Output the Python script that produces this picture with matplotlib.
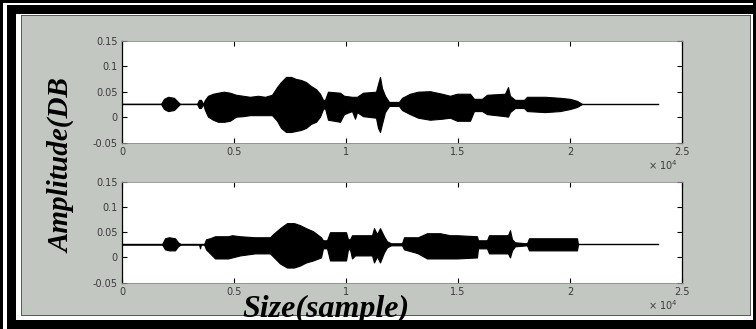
import matplotlib
matplotlib.use('Agg')
import matplotlib.pyplot as plt
from matplotlib.patches import Rectangle
import numpy as np

# envelope of the two waveforms
# (sample index, amplitude above / below the resting level)
base_level = 0.026
signal_end = 23929

top_samples = [0, 1741, 1875, 2054, 2321, 2500, 2589, 3348, 3438, 3527,
               3616, 3705, 3839, 4063, 4286, 4554, 4821, 5089, 5402, 5714,
               6071, 6384, 6696, 6920, 7098, 7321, 7545, 7768, 7991, 8214,
               8438, 8661, 8839, 8973, 9063, 9196, 9732, 9911, 10268, 10402,
               10491, 10759, 11339, 11429, 11518, 11607, 11741, 11920, 12366, 12500,
               12857, 13214, 13750, 14286, 14643, 14955, 15536, 15714, 16071, 16295,
               17098, 17232, 17321, 17545, 17946, 18080, 18884, 19554, 20000, 20313,
               20536]
top_upper = [0.0, 0.0, 0.010, 0.014, 0.012, 0.004, 0.0, 0.0, 0.008, 0.008,
             0.0, 0.008, 0.016, 0.020, 0.022, 0.024, 0.022, 0.018, 0.016, 0.014,
             0.016, 0.014, 0.018, 0.033, 0.043, 0.053, 0.053, 0.049, 0.047, 0.043,
             0.035, 0.029, 0.020, 0.008, 0.008, 0.024, 0.022, 0.016, 0.014, 0.014,
             0.014, 0.022, 0.024, 0.039, 0.053, 0.031, 0.016, 0.004, 0.004, 0.012,
             0.020, 0.024, 0.025, 0.020, 0.016, 0.020, 0.020, 0.010, 0.010, 0.018,
             0.020, 0.033, 0.016, 0.008, 0.008, 0.014, 0.014, 0.012, 0.010, 0.006,
             0.0]
top_lower = [0.0, 0.0, 0.010, 0.014, 0.012, 0.004, 0.0, 0.0, 0.008, 0.008,
             0.0, 0.012, 0.025, 0.031, 0.035, 0.035, 0.033, 0.025, 0.024, 0.022,
             0.022, 0.022, 0.022, 0.033, 0.047, 0.055, 0.055, 0.053, 0.051, 0.047,
             0.039, 0.035, 0.025, 0.010, 0.008, 0.031, 0.035, 0.020, 0.014, 0.029,
             0.016, 0.024, 0.027, 0.047, 0.055, 0.039, 0.016, 0.004, 0.004, 0.012,
             0.020, 0.027, 0.031, 0.029, 0.027, 0.033, 0.033, 0.014, 0.014, 0.020,
             0.024, 0.025, 0.016, 0.008, 0.008, 0.014, 0.016, 0.014, 0.010, 0.006,
             0.0]

bot_samples = [0, 1786, 1920, 2098, 2366, 2500, 2634, 3438, 3482, 3527,
               3661, 3750, 3929, 4152, 4732, 4911, 5268, 5938, 6607, 6741,
               7054, 7366, 7679, 7946, 8214, 8527, 8884, 8973, 9152, 9286,
               10000, 10089, 10179, 10268, 10402, 11161, 11250, 11384, 11518, 11696,
               11830, 12009, 12500, 12589, 13080, 13214, 13616, 14196, 14643, 14955,
               15848, 15893, 16295, 16384, 17232, 17321, 17411, 17545, 18080, 18170,
               20313, 20357]
bot_upper = [0.0, 0.0, 0.012, 0.014, 0.012, 0.004, 0.0, 0.0, 0.0, 0.0,
             0.0, 0.010, 0.012, 0.016, 0.016, 0.018, 0.016, 0.014, 0.014, 0.020,
             0.032, 0.042, 0.042, 0.038, 0.032, 0.026, 0.014, 0.008, 0.008, 0.024,
             0.024, 0.010, 0.010, 0.018, 0.018, 0.018, 0.032, 0.020, 0.032, 0.016,
             0.006, 0.002, 0.002, 0.014, 0.014, 0.014, 0.022, 0.022, 0.018, 0.018,
             0.016, 0.008, 0.008, 0.018, 0.018, 0.028, 0.010, 0.004, 0.002, 0.012,
             0.012, 0.0]
bot_lower = [0.0, 0.0, 0.010, 0.012, 0.012, 0.004, 0.0, 0.0, 0.008, 0.0,
             0.0, 0.010, 0.018, 0.028, 0.028, 0.026, 0.022, 0.018, 0.018, 0.024,
             0.038, 0.046, 0.046, 0.042, 0.036, 0.032, 0.026, 0.008, 0.008, 0.032,
             0.032, 0.010, 0.010, 0.028, 0.022, 0.022, 0.036, 0.024, 0.036, 0.016,
             0.006, 0.002, 0.002, 0.010, 0.016, 0.018, 0.028, 0.028, 0.028, 0.028,
             0.026, 0.008, 0.008, 0.018, 0.018, 0.026, 0.012, 0.004, 0.002, 0.012,
             0.012, 0.0]

y_ticks = [-0.05, 0, 0.05, 0.1, 0.15]
y_ticklabels = ['-0.05', '0', '0.05', '0.1', '0.15']
x_ticks = [0, 5000, 10000, 15000, 20000, 25000]
x_ticklabels = ['0', '0.5', '1', '1.5', '2', '2.5']

W, H = 756, 329
fig = plt.figure(figsize=(W / 100, H / 100), dpi=100)
fig.patch.set_facecolor('white')

def px_rect(x0, y0, x1, y1, color):
    # pixel box measured from the top left corner, kept behind the axes
    r = Rectangle((x0 / W, 1 - y1 / H), (x1 - x0) / W, (y1 - y0) / H,
                  transform=fig.transFigure, facecolor=color, edgecolor='none', zorder=-10)
    fig.patches.append(r)

# double black frame, cropped at right / bottom
px_rect(0, 0, 756, 329, 'black')
px_rect(3, 3, 753, 329, 'white')
px_rect(7, 5, 760, 329, 'black')
px_rect(16, 14, 753, 320, 'white')
px_rect(21, 15, 751, 316, '#5a5a5a')
px_rect(22, 16, 750, 315, '#c3c7c2')

panel_font = 'DejaVu Sans'

def draw_wave(ax, samples, upper, lower):
    s = np.array(samples)
    up = base_level + np.array(upper)
    lo = base_level - np.array(lower)
    ax.plot([0, signal_end], [base_level, base_level], color='black', lw=1.0)
    ax.fill_between(s, lo, up, color='black', lw=0.8, edgecolor='black')
    ax.set_xlim(0, 25000)
    ax.set_ylim(-0.05, 0.15)
    ax.set_facecolor('white')
    ax.set_yticks(y_ticks)
    ax.set_yticklabels(y_ticklabels)
    ax.set_xticks(x_ticks)
    ax.set_xticklabels(x_ticklabels)
    ax.tick_params(direction='in', top=True, right=True, length=3.5, width=0.8,
                   labelsize=7, labelcolor='#3a3a3a', pad=3)
    for lab in ax.get_xticklabels() + ax.get_yticklabels():
        lab.set_family(panel_font)
    for side in ['left', 'right']:
        ax.spines[side].set_color('black')
        ax.spines[side].set_linewidth(0.9)
    for side in ['top', 'bottom']:
        ax.spines[side].set_color('#8c8c8c')
        ax.spines[side].set_linewidth(0.6)
    ax.text(0.965, -0.22, u'\u00d7 10$^4$', transform=ax.transAxes, ha='center', va='center',
            fontsize=7, color='#3a3a3a', family=panel_font)

ax1 = fig.add_axes([122 / W, 1 - 142.7 / H, 560 / W, 102 / H])
draw_wave(ax1, top_samples, top_upper, top_lower)

ax2 = fig.add_axes([122 / W, 1 - 282.7 / H, 560 / W, 101 / H])
draw_wave(ax2, bot_samples, bot_upper, bot_lower)

fig.text(62 / W, 1 - 166 / H, 'Amplitude(DB', rotation=90, ha='center', va='center',
         fontsize=21, fontweight='bold', fontstyle='italic', family='Liberation Serif')
fig.text(326 / W, 1 - 317 / H, 'Size(sample)', ha='center', va='baseline',
         fontsize=23, fontweight='bold', fontstyle='italic', family='Liberation Serif')

fig.savefig('out.png', dpi=100, facecolor=fig.get_facecolor())
